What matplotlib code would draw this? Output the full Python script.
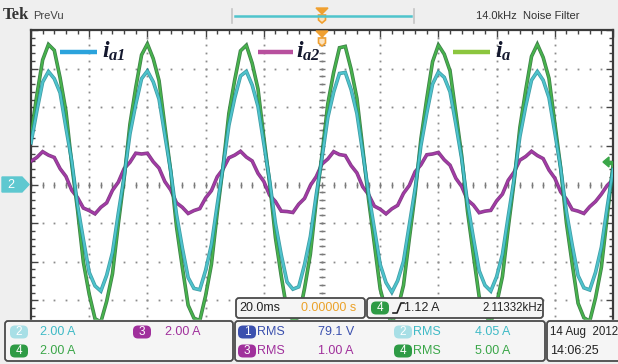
import matplotlib
matplotlib.use("Agg")
import matplotlib.pyplot as plt
import numpy as np
from matplotlib.patches import FancyBboxPatch, Polygon, Rectangle

plt.rcParams["mathtext.fontset"] = "custom"
plt.rcParams["mathtext.it"] = "Liberation Serif:italic:bold"
plt.rcParams["mathtext.rm"] = "Liberation Serif:italic:bold"
SCOPE_FONT = ["Liberation Sans", "DejaVu Sans"]

# ---- acquisition: 20 ms/div, 10 divisions, one sample every 2 ms ----
time_ms = np.arange(101) * 2.0 - 100.0

# ch4: i_a (A)
ia = [2.55, 4.62, 6.45, 7.25, 6.95, 5.52, 3.80, 1.05, -1.32, -4.02,
      -5.68, -6.95, -7.12, -6.05, -4.62, -2.05, 0.31, 3.12, 5.02, 6.71,
      7.28, 6.52, 5.38, 3.01, 0.70, -2.18, -4.28, -6.25, -6.92, -7.05,
      -5.76, -4.13, -1.47, 0.93, 3.68, 5.41, 6.92, 7.21, 6.28, 4.95,
      2.44, 0.08, -2.75, -4.74, -6.55, -7.02, -6.88, -5.38, -3.61, -0.87,
      1.55, 4.18, 5.80, 7.08, 7.15, 5.97, 4.46, 1.86, -0.77, -3.08,
      -5.41, -6.55, -7.18, -6.45, -5.22, -2.82, -0.48, 2.37, 4.44, 6.36,
      7.22, 6.75, 5.88, 3.70, 1.50, -1.38, -3.61, -5.80, -6.75, -7.15,
      -6.18, -4.77, -2.24, 0.13, 2.95, 4.88, 6.63, 7.26, 6.58, 5.50,
      3.18, 0.89, -1.99, -4.13, -6.15, -6.90, -7.08, -5.87, -4.29, -1.66,
      0.98]

# ch2: i_a1 (A)
ia1 = [2.15, 3.80, 5.30, 5.85, 5.48, 4.75, 2.95, 1.22, -1.08, -2.85,
       -4.55, -5.25, -5.52, -4.70, -3.52, -1.50, 0.40, 2.62, 4.15, 5.48,
       5.88, 5.32, 4.42, 2.55, 0.70, -1.55, -3.28, -4.82, -5.38, -5.45,
       -4.45, -3.12, -1.05, 0.90, 3.06, 4.48, 5.62, 5.86, 5.15, 4.05,
       2.12, 0.20, -2.02, -3.65, -5.05, -5.42, -5.30, -4.15, -2.70, -0.55,
       1.38, 3.47, 4.78, 5.75, 5.80, 4.92, 3.68, 1.65, -0.45, -2.30,
       -4.15, -5.08, -5.58, -4.98, -3.98, -2.10, -0.22, 2.02, 3.70, 5.20,
       5.82, 5.55, 4.80, 3.12, 1.33, -0.95, -2.75, -4.46, -5.22, -5.52,
       -4.78, -3.62, -1.65, 0.28, 2.48, 4.05, 5.40, 5.85, 5.40, 4.50,
       2.70, 0.85, -1.42, -3.15, -4.72, -5.35, -5.46, -4.55, -3.25, -1.18,
       0.78]

# ch3: i_a2 (A)
ia2 = [1.20, 1.40, 1.70, 1.52, 1.40, 0.82, 0.42, -0.30, -0.68, -1.22,
       -1.35, -1.52, -1.18, -0.95, -0.30, 0.12, 0.82, 1.15, 1.62, 1.58,
       1.62, 1.18, 0.85, 0.15, -0.28, -0.95, -1.18, -1.50, -1.35, -1.25,
       -0.70, -0.32, 0.40, 0.80, 1.38, 1.52, 1.72, 1.42, 1.22, 0.58,
       0.16, -0.55, -0.88, -1.38, -1.40, -1.45, -1.02, -0.72, -0.05, 0.40,
       1.06, 1.32, 1.70, 1.55, 1.50, 0.98, 0.60, -0.12, -0.52, -1.12,
       -1.28, -1.52, -1.26, -1.08, -0.46, -0.05, 0.66, 1.02, 1.54, 1.58,
       1.66, 1.28, 1.00, 0.32, -0.10, -0.80, -1.06, -1.46, -1.38, -1.34,
       -0.85, -0.50, 0.22, 0.64, 1.26, 1.45, 1.72, 1.50, 1.34, 0.75,
       0.33, -0.38, -0.76, -1.30, -1.38, -1.50, -1.15, -0.88, -0.50, -0.05,
       0.25]

legend_labels = [r"$i_{a1}$", r"$i_{a2}$", r"$i_{a}$"]
scale_text = ["2.00 A", "2.00 A", "2.00 A"]
meas_values = ["79.1 V", "4.05 A", "1.00 A", "5.00 A"]
timebase_text = "20.0ms"
trig_pos_text = "0.00000 s"
trig_level_text = "1.12 A"
trig_freq_text = "2.11332kHz"
date_text = ["14 Aug  2012", "14:06:25"]

C_CH1 = "#3b50ae"
C_CH2 = "#3fbac6"
C_CH2_BADGE = "#a8dfe6"
C_CH3 = "#a0309c"
C_CH4 = "#3aa648"

W, H = 618, 364
fig = plt.figure(figsize=(W / 100, H / 100), dpi=100, facecolor="#efefef")

# ---- waveform area (graticule 10 x 8 div) ----
x0, x1, y0, y1 = 31, 613, 30, 339
ax = fig.add_axes([x0 / W, 1 - y1 / H, (x1 - x0) / W, (y1 - y0) / H])
ax.set_facecolor("white")
ax.set_xlim(-100, 100)
ax.set_ylim(-8, 8)

# dotted graticule
dot = dict(ls="none", marker="s", ms=1.3, mec="none", color="#8c8c8c", zorder=1)
for xv in np.arange(-80, 81, 20):
    ys = np.arange(-8, 8.01, 0.4)
    ax.plot(np.full_like(ys, xv), ys, **dot)
for yv in np.arange(-6, 6.1, 2):
    xs = np.arange(-100, 100.1, 4)
    ax.plot(xs, np.full_like(xs, yv), **dot)
# centre cross-hair tick marks
cy = np.arange(-8, 8.01, 0.4)
ax.plot(np.zeros_like(cy), cy, ls="none", marker="_", ms=4, mew=1.0,
        color="#7a7a7a", zorder=1)
cx = np.arange(-100, 100.1, 4)
ax.plot(cx, np.zeros_like(cx), ls="none", marker="|", ms=4, mew=1.0,
        color="#7a7a7a", zorder=1)

# border ticks
ax.set_xticks(np.arange(-100, 101, 20))
ax.set_xticks(np.arange(-100, 101, 4), minor=True)
ax.set_yticks(np.arange(-8, 8.1, 2))
ax.set_yticks(np.arange(-8, 8.1, 0.4), minor=True)
ax.tick_params(which="both", direction="in", top=True, bottom=True,
               left=True, right=True, labelbottom=False, labelleft=False,
               color="#444444", width=1.0)
ax.tick_params(which="major", length=5)
ax.tick_params(which="minor", length=3)
for s in ax.spines.values():
    s.set_color("#3a3a3a")
    s.set_linewidth(1.6)

# traces
traces = [(ia2, "#a23aa6", "#6e1f70"),
          (ia, "#47b24c", "#1d6b2a"),
          (ia1, "#4ec3cc", "#1f8c96")]
for vals, col, edge in traces:
    ax.plot(time_ms, vals, color=edge, lw=2.6, alpha=0.85, zorder=3,
            solid_joinstyle="miter")
    ax.plot(time_ms, vals, color=col, lw=1.5, zorder=3)

# ---- overlay: header, markers, readouts (pixel coordinates) ----
ov = fig.add_axes([0, 0, 1, 1], zorder=5)
ov.set_xlim(0, W)
ov.set_ylim(H, 0)
ov.axis("off")
ov.patch.set_alpha(0)

ov.text(3, 15, "Tek", fontsize=12, fontweight="bold", family="Liberation Serif",
        color="#333333", va="center", ha="left")
ov.text(33, 16, "PreVu", fontsize=8, family=SCOPE_FONT, color="#444444",
        va="center", ha="left")
ov.plot([235, 411], [16, 16], color="#4fc4cc", lw=1.8)
for xb in (232, 414):
    ov.plot([xb, xb], [9, 23], color="#c4c4c4", lw=1.2)
ov.text(476, 16, "14.0kHz  Noise Filter", fontsize=8, family=SCOPE_FONT,
        color="#333333", va="center", ha="left")

# trigger position markers (orange)
for yt in (8, 31):
    ov.add_patch(Polygon([[316, yt], [328, yt], [322, yt + 6]], closed=True,
                         color="#f0a030"))
    ov.add_patch(Polygon([[318.5, yt + 7], [325.5, yt + 7], [325.5, yt + 12],
                          [322, yt + 15], [318.5, yt + 12]], closed=True,
                         fc="#fbe3c0", ec="#f0a030", lw=1.2))

# legend keys
legend_y = 52
for (xa, xb_, xt), col, lab in zip(
        [(60, 97, 102), (258, 293, 296), (453, 490, 495)],
        ["#2ba3dc", "#b8509e", "#8cc63e"], legend_labels):
    ov.plot([xa, xb_], [legend_y, legend_y], color=col, lw=3.2,
            solid_capstyle="butt")
    ov.text(xt, legend_y - 1, lab, fontsize=17, color="#14182e",
            va="center", ha="left")

# channel 2 ground marker
ov.add_patch(Polygon([[2, 177], [22, 177], [29, 184.5], [22, 192], [2, 192]],
                     closed=True, color="#5ec8d0"))
ov.text(11, 184.5, "2", fontsize=9, color="white", family=SCOPE_FONT,
        va="center", ha="center")
# trigger level marker (ch4)
ov.add_patch(Polygon([[603, 162], [609, 157], [609, 167]], closed=True,
                     color=C_CH4))
ov.add_patch(Rectangle((608, 160.5), 4, 3, color=C_CH4))

# bottom strip background
ov.add_patch(Rectangle((0, 320), W, H - 320, color="#efefef", zorder=1))


def box(x, y, w, h):
    ov.add_patch(FancyBboxPatch((x, y), w, h,
                                boxstyle="round,pad=0,rounding_size=3",
                                fc="#f5f5f5", ec="#4a4a4a", lw=1.3, zorder=2))


def badge(x, y, num, fc, tc="white"):
    ov.add_patch(FancyBboxPatch((x, y - 6.5), 18, 13,
                                boxstyle="round,pad=0,rounding_size=5",
                                fc=fc, ec="none", zorder=3))
    ov.text(x + 9, y, num, fontsize=8.5, color=tc, family=SCOPE_FONT,
            va="center", ha="center", zorder=4)


def label(x, y, s, col, size=9):
    ov.text(x, y, s, fontsize=size, color=col, family=SCOPE_FONT,
            va="center", ha="left", zorder=4)


# timebase / trigger readouts
box(236, 298, 129, 20)
label(239, 308, timebase_text, "#222222")
label(301, 308, trig_pos_text, "#eba22a")
box(367, 298, 176, 20)
badge(371, 308, "4", "#2e9b45")
ov.plot([393, 397, 401, 404], [313, 313, 303, 303], color="#222222", lw=1.2,
        zorder=4)
label(404, 308, trig_level_text, "#222222")
label(482, 308, trig_freq_text, "#222222", size=8.3)

# vertical scale readouts
box(5, 321, 228, 40)
row1, row2 = 332, 351
badge(10, row1, "2", C_CH2_BADGE)
label(40, row1, scale_text[0], C_CH2)
badge(133, row1, "3", C_CH3)
label(165, row1, scale_text[1], C_CH3)
badge(10, row2, "4", "#2e9b45")
label(40, row2, scale_text[2], C_CH4)

# measurement readouts
box(235, 321, 310, 40)
badge(238, row1, "1", C_CH1)
label(257, row1, "RMS", C_CH1)
label(318, row1, meas_values[0], C_CH1)
badge(394, row1, "2", C_CH2_BADGE)
label(413, row1, "RMS", C_CH2)
label(475, row1, meas_values[1], C_CH2)
badge(238, row2, "3", C_CH3)
label(257, row2, "RMS", C_CH3)
label(318, row2, meas_values[2], C_CH3)
badge(394, row2, "4", "#2e9b45")
label(413, row2, "RMS", C_CH4)
label(475, row2, meas_values[3], C_CH4)

# date / time
box(547, 321, 80, 40)
label(550, row1, date_text[0], "#222222", size=8.3)
label(550, row2, date_text[1], "#222222")

fig.savefig("out.png", dpi=100, facecolor=fig.get_facecolor())
